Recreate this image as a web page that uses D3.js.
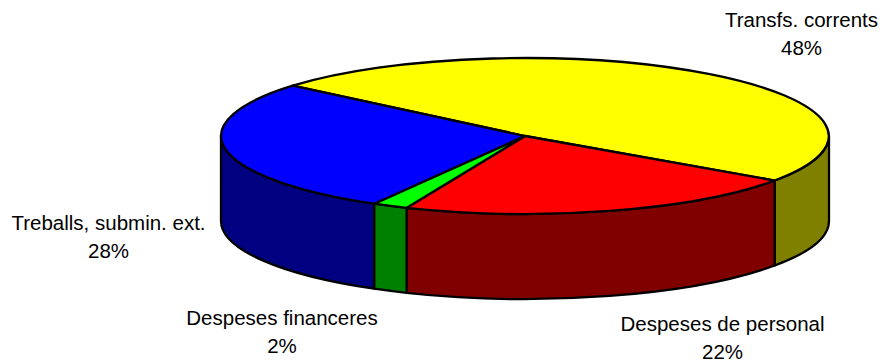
<!DOCTYPE html>
<html><head><meta charset="utf-8">
<script src="https://cdn.jsdelivr.net/npm/d3@7"></script>
<style>html,body{margin:0;padding:0;background:#fff}svg{display:block}</style>
</head><body><svg id="c" width="885" height="362"></svg>
<script>
const categories=["Transfs. corrents","Despeses de personal","Despeses financeres","Treballs, submin. ext."];
const shares=[48.5,21.7,1.9,27.9];
const percentLabels=["48%","22%","2%","28%"];
const topColors=["#ffff00","#ff0000","#00ff00","#0000ff"];
const sideColors=["#808000","#800000","#008000","#000080"];
const labelAnchors=[[801.5,27],[722.5,331],[282,325],[108.5,230]];

const W=885,H=362,cx=525,cy=136,rx=304,ry=78,depth=85,sw=2.3;
const svg=d3.select("#c");
const rad=d=>d*Math.PI/180;
const pie=d3.pie().value(d=>d).sort(null).startAngle(rad(-49.8)).endAngle(rad(310.2));
const arcs=pie(shares).map((a,i)=>({...a,i}));
const X=d3.scaleLinear().domain([-1,1]).range([cx-rx,cx+rx]);
const Y=d3.scaleLinear().domain([-1,1]).range([cy-ry,cy+ry]);
const px=t=>X(Math.sin(t)), py=t=>Y(-Math.cos(t));

// Side walls: the visible part of each slice lies between 90° and 270°
function wall(a0,a1){
  const s=Math.max(a0,rad(90)),e=Math.min(a1,rad(270));
  if(e<=s)return null;
  return `M${px(s)},${py(s)}A${rx},${ry} 0 0 1 ${px(e)},${py(e)}`+
         `L${px(e)},${py(e)+depth}A${rx},${ry} 0 0 0 ${px(s)},${py(s)+depth}Z`;
}
const walls=[];
arcs.forEach(a=>{
  [0,2*Math.PI,-2*Math.PI].forEach(o=>{
    const d=wall(a.startAngle+o,a.endAngle+o); if(d)walls.push({d,i:a.i});
  });
});
svg.append("g").selectAll("path").data(walls).join("path")
  .attr("d",d=>d.d).attr("fill",d=>sideColors[d.i]).attr("stroke","#000").attr("stroke-width",sw).attr("stroke-linejoin","round");

// Top face
const arcGen=d3.arc().innerRadius(0).outerRadius(1);
svg.append("g").attr("transform",`translate(${cx},${cy}) scale(${rx},${ry})`)
  .selectAll("path").data(arcs).join("path")
  .attr("d",arcGen).attr("fill",d=>topColors[d.i])
  .attr("stroke","#000").attr("stroke-width",sw).attr("vector-effect","non-scaling-stroke").attr("stroke-linejoin","round");

// Labels
const g=svg.append("g").attr("font-family","'Liberation Sans',Arial,sans-serif").attr("font-size",20.5).attr("fill","#000").attr("text-anchor","middle");
categories.forEach((c,i)=>{
  const [x,y]=labelAnchors[i];
  g.append("text").attr("x",x).attr("y",y).text(c);
  g.append("text").attr("x",x).attr("y",y+27.5).text(percentLabels[i]);
});
</script></body></html>
